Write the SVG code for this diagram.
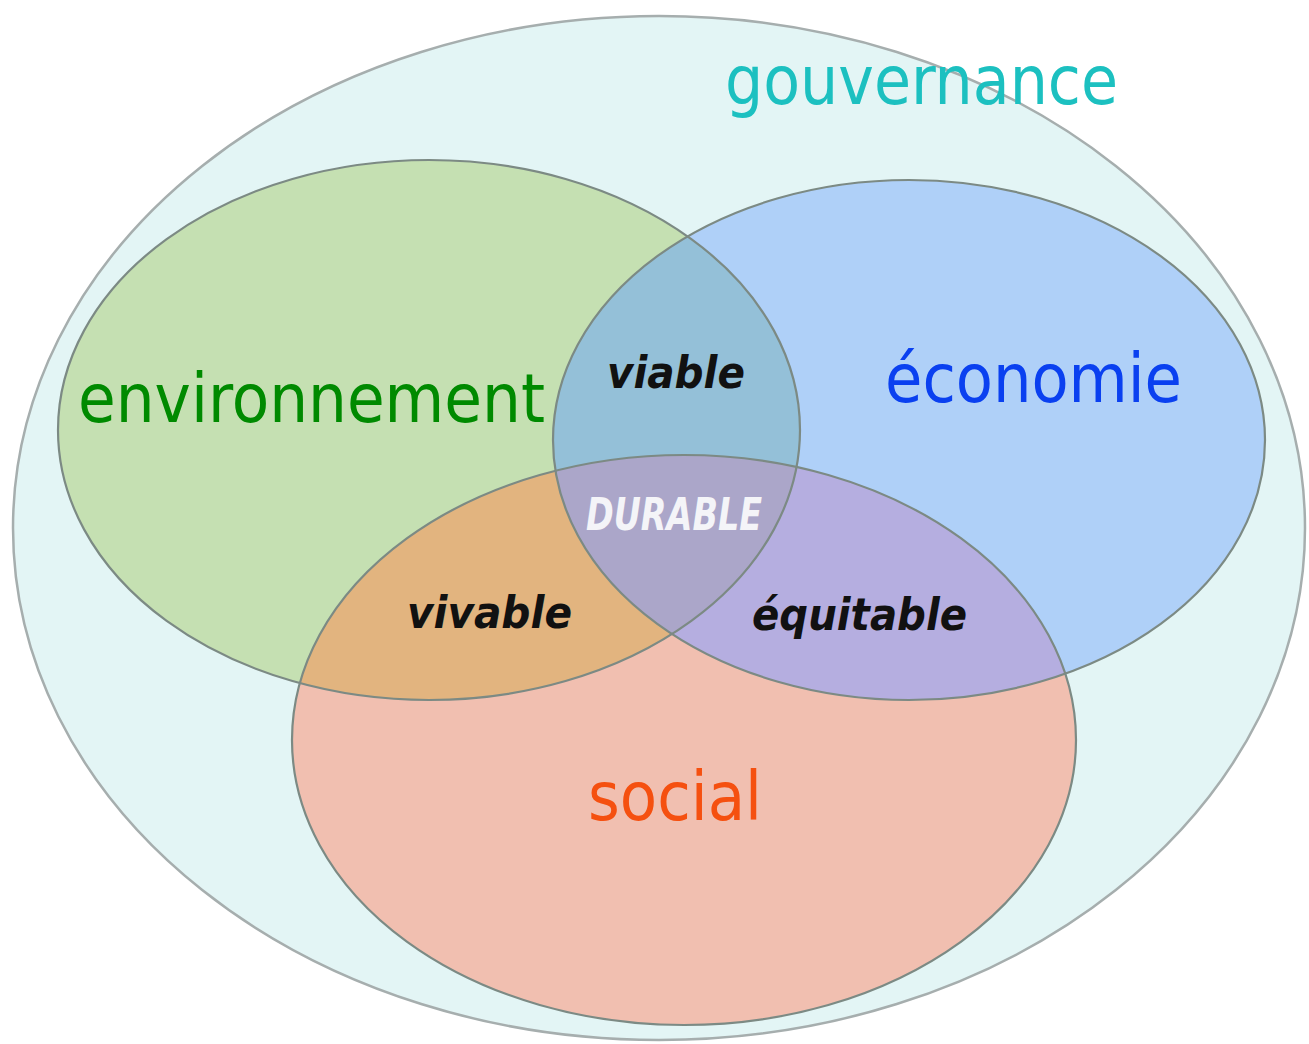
<svg xmlns="http://www.w3.org/2000/svg" width="1309" height="1044" viewBox="0 0 1309 1044">
<style>
.edge{fill:none;stroke:#7c8a84;stroke-width:2.2}
.big{font-family:"DejaVu Sans Condensed","DejaVu Sans",sans-serif;font-size:68px}
.lab{font-family:"DejaVu Sans Condensed","DejaVu Sans",sans-serif;font-size:44px;font-weight:bold;font-style:italic;fill:#111}
.lab.white{fill:#f4f4f8}
</style>
<defs>
<ellipse id="eG" cx="429" cy="430" rx="371" ry="270"/>
<ellipse id="eB" cx="909" cy="440" rx="356" ry="260"/>
<ellipse id="eR" cx="684" cy="740" rx="392" ry="285"/>
<clipPath id="cG"><use href="#eG"/></clipPath>
<clipPath id="cB"><use href="#eB"/></clipPath>
</defs>
<rect width="1309" height="1044" fill="#ffffff"/>
<g id="gouvernance">
<ellipse cx="659" cy="528" rx="646" ry="512" fill="#e3f5f5" stroke="#a6aeae" stroke-width="2.5"/>
<text class="big" x="725" y="104" fill="#1cc0c0" font-size="66" textLength="393" lengthAdjust="spacingAndGlyphs">gouvernance</text>
</g>
<g id="environnement">
<use href="#eG" fill="#c5e0b2"/>
</g>
<g id="economie">
<use href="#eB" fill="#afd0f8"/>
</g>
<g id="social">
<use href="#eR" fill="#f1bfb0"/>
</g>
<g id="viable">
<use href="#eB" fill="#94c0d8" clip-path="url(#cG)"/>
</g>
<g id="vivable">
<use href="#eR" fill="#e2b47f" clip-path="url(#cG)"/>
</g>
<g id="equitable">
<use href="#eR" fill="#b5aee0" clip-path="url(#cB)"/>
</g>
<g id="durable">
<g clip-path="url(#cG)"><use href="#eR" fill="#aba6c9" clip-path="url(#cB)"/></g>
</g>
<g id="outlines">
<use href="#eG" class="edge"/>
<use href="#eB" class="edge"/>
<use href="#eR" class="edge"/>
</g>
<g id="labels">
<text class="big" x="78" y="422" fill="#008a00" textLength="467" lengthAdjust="spacingAndGlyphs">environnement</text>
<text class="big" x="885" y="402" fill="#0a40f0" textLength="297" lengthAdjust="spacingAndGlyphs">économie</text>
<text class="big" x="588" y="820" fill="#f55010" font-size="70" textLength="174" lengthAdjust="spacingAndGlyphs">social</text>
<text class="lab" x="607" y="388" textLength="138" lengthAdjust="spacingAndGlyphs">viable</text>
<text class="lab white" x="586" y="530" textLength="176" lengthAdjust="spacingAndGlyphs">DURABLE</text>
<text class="lab" x="407" y="628" textLength="165" lengthAdjust="spacingAndGlyphs">vivable</text>
<text class="lab" x="752" y="630" textLength="215" lengthAdjust="spacingAndGlyphs">équitable</text>
</g>
</svg>
